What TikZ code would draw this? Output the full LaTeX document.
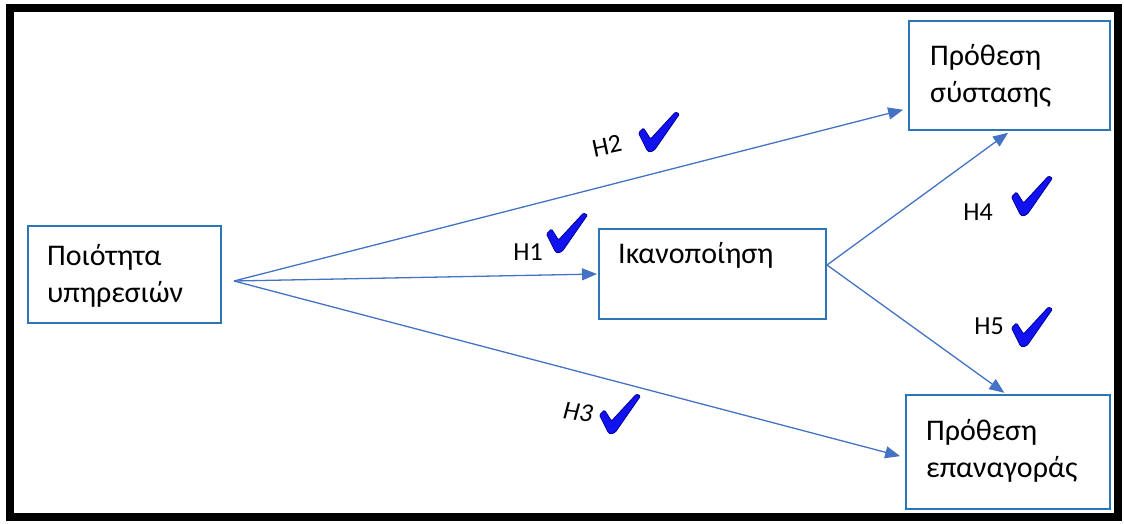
\documentclass[tikz,border=0pt]{standalone}
\usepackage{fontspec}
\setmainfont{Carlito}
\usetikzlibrary{arrows.meta}
\definecolor{boxblue}{RGB}{46,117,182}
\definecolor{linkblue}{RGB}{68,114,196}
\definecolor{tickblue}{RGB}{18,18,240}
\definecolor{tickedge}{RGB}{0,0,150}
\tikzset{
  framebox/.style={draw=boxblue, line width=2pt, fill=white, inner sep=0pt},
  boxtext/.style={anchor=base west, inner sep=0pt,
    font=\fontsize{30}{37}\selectfont},
  link/.style={draw=linkblue, line width=1.3pt,
    -{Triangle[length=15pt,width=12pt]}},
  hyp/.style={inner sep=0pt, font=\fontsize{26}{30}\selectfont},
  % a heavy check mark, about 41 x 40 units, centred on its position
  tickmark/.pic={
    \fill[tickblue, draw=tickedge, line width=0.8pt, rounded corners=1.2pt]
      (-20.5,1) -- (-15.5,-4) -- (-8.5,7) -- (16.5,-20) -- (20.5,-18)
      -- (-4.5,18) -- (-8.5,20) -- (-11.5,19) -- cycle;
  },
}
\newcommand{\twolines}[2]{\parbox[t]{7cm}{\raggedright #1\\#2}}
\begin{document}
\begin{tikzpicture}[x=1pt, y=-1pt]
  \useasboundingbox (0,0) rectangle (1124,523);
  % outer frame
  \draw[line width=8pt] (10,8) rectangle (1118,517);

  % construct boxes
  \node[framebox, anchor=north west, minimum width=193pt, minimum height=97pt] (q) at (27,225) {};
  \node[framebox, anchor=north west, minimum width=227pt, minimum height=90pt] (i) at (598,228) {};
  \node[framebox, anchor=north west, minimum width=201pt, minimum height=109pt] (s) at (908,20) {};
  \node[framebox, anchor=north west, minimum width=204pt, minimum height=114pt] (e) at (905,394) {};

  % box labels
  \node[boxtext] (qt) at (47,265) {\twolines{Ποιότητα}{υπηρεσιών}};
  \node[boxtext] (it) at (618,263) {Ικανοποίηση};
  \node[boxtext] (st) at (930,65) {\twolines{Πρόθεση}{σύστασης}};
  \node[boxtext] (et) at (926,440) {\twolines{Πρόθεση}{επαναγοράς}};

  % connector origins
  \coordinate (qo) at (234,281);
  \coordinate (io) at (827,265);

  % hypotheses
  \draw[link, shorten >=1pt] (qo) -- (i.west);
  \draw[link, shorten >=5pt] (qo) -- (s.198.4);
  \draw[link, shorten >=5pt] (qo) -- (e.183.4);
  \draw[link, shorten >=3pt] (io) -- (s.271.6);
  \draw[link, shorten >=2pt] (io) -- (e.92);

  % hypothesis labels
  \node[hyp, rotate=12] (h2) at (607,146) {H2};
  \node[hyp] (h1) at (528,252) {H1};
  \node[hyp, rotate=-8, font=\fontsize{26}{30}\selectfont\itshape] (h3) at (578,412) {H3};
  \node[hyp] (h4) at (978,212) {H4};
  \node[hyp] (h5) at (989,326) {H5};

  % check marks
  \pic (c2) at (659,132) {tickmark};
  \pic (c1) at (567,233) {tickmark};
  \pic (c3) at (620,414) {tickmark};
  \pic (c4) at (1032,196) {tickmark};
  \pic (c5) at (1032,327) {tickmark};
\end{tikzpicture}
\end{document}
